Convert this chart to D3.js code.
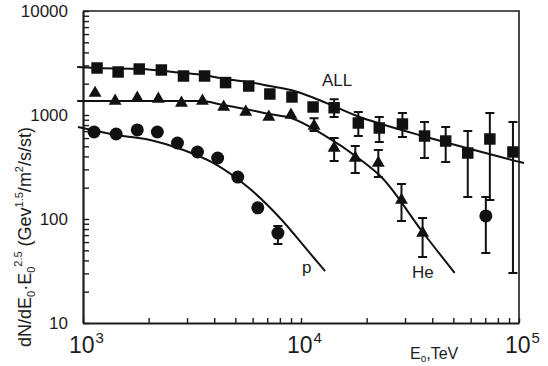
<!DOCTYPE html>
<html><head><meta charset="utf-8">
<script src="https://cdn.jsdelivr.net/npm/d3@7"></script>
<style>
body{margin:0;background:#fff}
svg{display:block}
text{font-family:"Liberation Sans",Arial,sans-serif;fill:#1c1c1c}
</style>
</head><body>
<svg id="c" width="548" height="366"></svg>
<script>
// ---- data (E0 in axis units, flux values) ----
const allE  = [1160,1449,1811,2288,2890,3611,4508,5757,7197,9090,11360,14190,18320,22860,29190,36870,46100,58210,73500,93800];
const allV  = [2831,2592,2768,2708,2371,2371,2050,1900,1592,1490,1194,1175,838,750,819,628,562,431,588,441];
const allLo = [null,null,null,null,null,null,null,null,null,null,null,957,628,550,614,386,353,163,152,30.3];
const allHi = [null,null,null,null,null,null,null,null,null,null,null,1420,1069,957,1045,856,767,702,1045,856];

const heE  = [1136,1404,1774,2216,2829,3532,4418,5579,7120,8994,11480,14190,17740,22630,28900,36120];
const heV  = [1625,1363,1457,1425,1304,1363,1194,1069,957,1000,784,482,386,345,152,73.3];
const heLo = [null,null,null,null,null,null,null,null,null,null,700,361,277,253,95.7,43.1];
const heHi = [null,null,null,null,null,null,null,null,null,null,929,601,503,461,217,102];

const pE  = [1124,1419,1774,2193,2712,3350,4146,5126,6337,7834,70450];
const pV  = [686,657,718,686,538,441,386,253,128,73.3,107];
const pLo = [null,null,null,null,null,null,null,null,null,57.5,47.1];
const pHi = [null,null,null,null,null,null,null,null,null,85.7,163];

const allCurveE = [940,1160,1831,2890,3573,4508,5700,7197,8994,11480,13740,18320,23370,36870,105400];
const allCurveV = [2894,2831,2768,2535,2424,2219,2076,1900,1739,1457,1248,967,819,621,345];
const heCurveE  = [940,3450,4418,5579,7120,8994,12760,18320,23370,36120,50700];
const heCurveV  = [1363,1363,1248,1142,1022,936,642,386,253,75,30.3];
const pCurveE   = [948,1434,2036,2890,3972,5700,8087,10770,12900];
const pCurveV   = [767,642,575,461,345,203,100,49.3,31.6];

const yTickLabels = ["10","100","1000","10000"];
const xTickExps = ["3","4","5"];

// ---- drawing ----
const svg = d3.select("#c");
const x = d3.scaleLog().domain([1e3,1e5]).range([83,519]);
const y = d3.scaleLog().domain([10,1e4]).range([323,11]);

// frame (top/right)
svg.append("path").attr("d",`M${x(1e3)},${y(1e4)}H${x(1e5)}V${y(10)}`)
  .attr("fill","none").attr("stroke","#1c1c1c").attr("stroke-width",1.6);

// axes
const yAxis = d3.axisLeft(y).tickValues(y.ticks()).tickSizeInner(-6).tickSizeOuter(0).tickPadding(15)
  .tickFormat(d => { const i = yTickLabels.indexOf(String(d)); return i>=0 ? yTickLabels[i] : ""; });
const gy = svg.append("g").attr("transform",`translate(${x(1e3)},0)`).call(yAxis);
gy.selectAll("text").attr("font-size",17).attr("font-family","Liberation Sans, Arial, sans-serif").attr("fill","#1c1c1c");
gy.selectAll("line,path").attr("stroke","#1c1c1c");
gy.select(".domain").attr("stroke-width",2.2);
gy.selectAll(".tick line").attr("stroke-width",1.4);

const xAxis = d3.axisBottom(x).tickValues(x.ticks()).tickSizeInner(-5).tickSizeOuter(0).tickFormat("");
const gx = svg.append("g").attr("transform",`translate(0,${y(10)})`).call(xAxis);
gx.selectAll("line,path").attr("stroke","#1c1c1c");
gx.select(".domain").attr("stroke-width",2.2);
gx.selectAll(".tick line").attr("stroke-width",1.4);

// x tick labels 10^n
xTickExps.forEach(e => {
  const t = svg.append("text").attr("x", x(Math.pow(10,+e)) - 14).attr("y",353).attr("font-size",23);
  t.append("tspan").text("10");
  t.append("tspan").attr("font-size",15).attr("dy",-10).attr("dx",1).text(e);
});

// y title
const yt = svg.append("text").attr("transform","translate(31,237) rotate(-90)")
  .attr("text-anchor","middle").attr("font-size",18);
yt.append("tspan").text("dN/dE");
yt.append("tspan").attr("font-size",11).attr("dy",4).text("0");
yt.append("tspan").attr("dy",-4).text("·E");
yt.append("tspan").attr("font-size",11).attr("dy",4).text("0");
yt.append("tspan").attr("font-size",11).attr("dy",-13).text("2.5");
yt.append("tspan").attr("dy",9).text(" (Gev");
yt.append("tspan").attr("font-size",11).attr("dy",-8).text("1.5");
yt.append("tspan").attr("dy",8).text("/m");
yt.append("tspan").attr("font-size",11).attr("dy",-8).text("2");
yt.append("tspan").attr("dy",8).text("/s/st)");

// x title
const xt = svg.append("text").attr("x",410).attr("y",359).attr("font-size",16);
xt.append("tspan").text("E");
xt.append("tspan").attr("font-size",10).attr("dy",3).text("o");
xt.append("tspan").attr("dy",-3).text(",TeV");

// curves
const line = d3.line().x(d=>x(d[0])).y(d=>y(d[1])).curve(d3.curveMonotoneX);
[[allCurveE,allCurveV],[heCurveE,heCurveV],[pCurveE,pCurveV]].forEach(([E,V]) => {
  svg.append("path").datum(E.map((e,i)=>[e,V[i]])).attr("d",line)
    .attr("fill","none").attr("stroke","#111").attr("stroke-width",2);
});

// error bars
function errBars(E,lo,hi){
  const g = svg.append("g").attr("stroke","#111").attr("stroke-width",2).attr("fill","none");
  E.forEach((e,i)=>{
    if(lo[i]==null) return;
    const cx = x(e), y0 = y(lo[i]), y1 = y(hi[i]);
    g.append("path").attr("d",`M${cx},${y0}V${y1}M${cx-4.5},${y0}H${cx+4.5}M${cx-4.5},${y1}H${cx+4.5}`);
  });
}
errBars(allE,allLo,allHi);
errBars(heE,heLo,heHi);
errBars(pE,pLo,pHi);

// markers
const sq = d3.symbol().type(d3.symbolSquare).size(132);
svg.append("g").selectAll("path").data(allE).join("path")
  .attr("transform",(e,i)=>`translate(${x(e)},${y(allV[i])})`).attr("d",sq).attr("fill","#111");
const tri = d3.symbol().type(d3.symbolTriangle).size(72);
svg.append("g").selectAll("path").data(heE).join("path")
  .attr("transform",(e,i)=>`translate(${x(e)},${y(heV[i])})`).attr("d",tri).attr("fill","#111");
svg.append("g").selectAll("circle").data(pE).join("circle")
  .attr("cx",e=>x(e)).attr("cy",(e,i)=>y(pV[i])).attr("r",6.5).attr("fill","#111");

// curve labels
svg.append("text").attr("x",322).attr("y",86).attr("font-size",17).text("ALL");
svg.append("text").attr("x",412).attr("y",278).attr("font-size",17).text("He");
svg.append("text").attr("x",302).attr("y",273).attr("font-size",17).text("p");
</script>
</body></html>
